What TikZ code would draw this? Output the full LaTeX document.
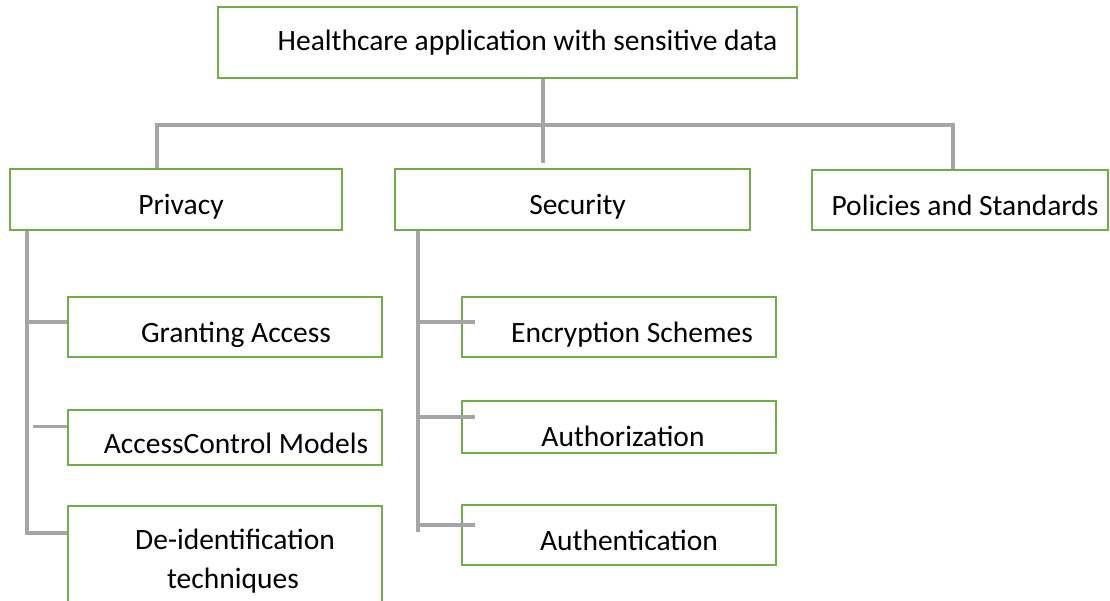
\documentclass[tikz,border=0pt]{standalone}
\usepackage{fontspec}
\setmainfont{Carlito}
\definecolor{BoxGreen}{HTML}{70AD47}
\definecolor{LinkGray}{HTML}{A5A5A5}

\begin{document}
\begin{tikzpicture}[x=1pt,y=-1pt,line cap=butt,line join=miter,
    font=\fontsize{29.5}{39}\selectfont,
    box/.style={draw=BoxGreen,line width=2.5pt,fill=white,inner sep=0pt,align=center},
    low/.style={text height=#1,text depth=7pt},
    low/.default=37pt,
    nudge/.style={execute at begin node={\hspace*{#1}}},
    link/.style={draw=LinkGray,line width=3.5pt}]
  \clip (0,0) rectangle (1110,600);
  % boxes
  \node[box,nudge=40pt,minimum width=579,minimum height=71] (root) at (507.5,42.5) {Healthcare application with sensitive data};
  \node[box,low,nudge=10pt,minimum width=332,minimum height=61] (priv) at (176,199.5) {Privacy};
  \node[box,low,nudge=10pt,minimum width=355,minimum height=61] (sec) at (572.5,199.5) {Security};
  \node[box,low,nudge=10pt,minimum width=296,minimum height=60] (pol) at (960,200) {Policies and Standards};
  \node[box,low,nudge=22pt,minimum width=314,minimum height=60] (gran) at (225,327) {Granting Access};
  \node[box,low=39pt,nudge=22pt,minimum width=314,minimum height=55] (acm) at (225,437.5) {AccessControl Models};
  \node[box,minimum width=314,minimum height=110] (deid) at (225,561) {\hspace*{20pt}De-identification\\\hspace*{16pt}techniques};
  \node[box,low,nudge=26pt,minimum width=314,minimum height=60] (enc) at (619,327) {Encryption Schemes};
  \node[box,low=45pt,nudge=8pt,minimum width=314,minimum height=50] (authz) at (619,427) {Authorization};
  \node[box,low,nudge=20pt,minimum width=314,minimum height=60] (authn) at (619,535) {Authentication};
  % bus under the root
  \coordinate (trunk) at (543,163);
  \coordinate (busL) at (157,125);
  \coordinate (busR) at (953,125);
  \draw[link] (root.south -| trunk) -- (trunk);
  \draw[link] (priv.north -| busL) -- (busL) -- (busR) -- (pol.north -| busR);
  % privacy branch
  \coordinate (pcorner) at (27,533);
  \coordinate (granrow) at ([yshift=5pt]gran.west);
  \coordinate (acmrow) at ([yshift=11pt]acm.west);
  \draw[link] (priv.south -| pcorner) -- (pcorner) -- (pcorner -| deid.west);
  \draw[link] (pcorner |- granrow) -- (granrow);
  \draw[link] ([xshift=6pt]pcorner |- acmrow) -- (acmrow);
  % security branch
  \coordinate (scorner) at (418,532);
  \draw[link] (sec.south -| scorner) -- (scorner);
  \foreach \n/\dy in {enc/5,authz/10,authn/10}{
    \coordinate (\n row) at ([yshift=\dy pt]\n.west);
    \draw[link] (scorner |- \n row) -- ([xshift=14pt]\n row);
  }
\end{tikzpicture}
\end{document}
